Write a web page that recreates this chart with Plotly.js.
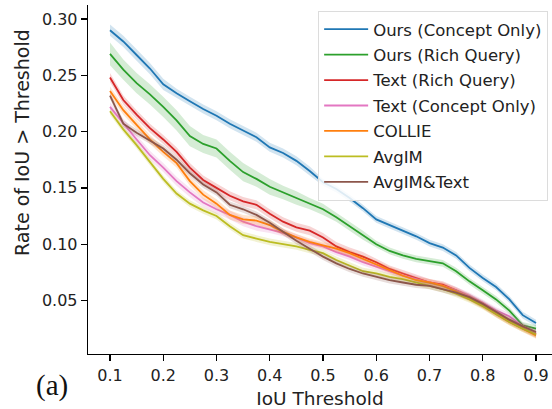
<!DOCTYPE html>
<html>
<head>
<meta charset="utf-8">
<script src="https://cdn.plot.ly/plotly-3.0.1.min.js"></script>
<style>html,body{margin:0;padding:0;background:#fff;}#chart{width:552px;height:409px;}</style>
</head>
<body>
<div id="chart"></div>
<script>
const thresholds = [0.100,0.125,0.150,0.175,0.200,0.225,0.250,0.275,0.300,0.325,0.350,0.375,0.400,0.425,0.450,0.475,0.500,0.525,0.550,0.575,0.600,0.625,0.650,0.675,0.700,0.725,0.750,0.775,0.800,0.825,0.850,0.875,0.900];

const oursConcept = [0.290,0.280,0.268,0.256,0.242,0.234,0.227,0.220,0.214,0.207,0.201,0.195,0.186,0.181,0.174,0.165,0.155,0.149,0.141,0.132,0.122,0.117,0.112,0.107,0.101,0.097,0.090,0.079,0.070,0.062,0.051,0.037,0.030];
const oursConceptErr = [0.005,0.005,0.005,0.005,0.005,0.004,0.004,0.004,0.004,0.004,0.004,0.004,0.004,0.004,0.004,0.004,0.003,0.003,0.003,0.003,0.003,0.003,0.003,0.003,0.003,0.003,0.003,0.003,0.003,0.003,0.003,0.003,0.003];

const oursRich = [0.269,0.255,0.243,0.233,0.222,0.210,0.196,0.189,0.185,0.174,0.164,0.158,0.151,0.146,0.141,0.136,0.131,0.124,0.116,0.108,0.100,0.094,0.090,0.087,0.085,0.083,0.076,0.067,0.059,0.051,0.041,0.028,0.025];
const oursRichErr = [0.010,0.009,0.009,0.009,0.009,0.009,0.009,0.008,0.008,0.008,0.008,0.007,0.007,0.006,0.006,0.005,0.005,0.004,0.004,0.004,0.003,0.003,0.003,0.003,0.003,0.003,0.003,0.003,0.003,0.003,0.003,0.003,0.003];

const textRich = [0.248,0.228,0.215,0.203,0.193,0.182,0.168,0.157,0.150,0.143,0.138,0.135,0.127,0.120,0.115,0.112,0.106,0.098,0.093,0.089,0.084,0.078,0.074,0.070,0.066,0.064,0.059,0.053,0.046,0.039,0.032,0.026,0.020];
const textRichErr = [0.004,0.004,0.004,0.004,0.004,0.004,0.004,0.004,0.004,0.004,0.004,0.004,0.004,0.004,0.004,0.004,0.004,0.004,0.004,0.004,0.003,0.003,0.003,0.003,0.003,0.003,0.003,0.003,0.003,0.003,0.003,0.003,0.003];

const textConcept = [0.222,0.207,0.193,0.179,0.168,0.156,0.146,0.137,0.131,0.126,0.120,0.116,0.113,0.110,0.106,0.101,0.098,0.093,0.089,0.084,0.080,0.076,0.072,0.069,0.066,0.063,0.059,0.054,0.048,0.041,0.036,0.027,0.021];
const textConceptErr = [0.004,0.004,0.004,0.004,0.004,0.004,0.004,0.004,0.004,0.004,0.004,0.004,0.003,0.003,0.003,0.003,0.003,0.003,0.003,0.003,0.003,0.003,0.003,0.003,0.003,0.003,0.003,0.003,0.003,0.003,0.003,0.003,0.003];

const collie = [0.236,0.219,0.206,0.193,0.182,0.172,0.156,0.144,0.136,0.126,0.122,0.121,0.117,0.111,0.106,0.102,0.099,0.096,0.092,0.087,0.082,0.077,0.072,0.068,0.066,0.063,0.058,0.052,0.046,0.038,0.031,0.025,0.019];
const collieErr = [0.004,0.004,0.004,0.004,0.004,0.004,0.004,0.004,0.004,0.004,0.004,0.004,0.004,0.003,0.003,0.003,0.003,0.003,0.003,0.003,0.003,0.003,0.003,0.003,0.003,0.003,0.003,0.003,0.003,0.003,0.003,0.003,0.003];

const avgIM = [0.218,0.202,0.188,0.173,0.158,0.145,0.136,0.130,0.125,0.116,0.108,0.105,0.102,0.100,0.098,0.095,0.092,0.086,0.081,0.076,0.074,0.071,0.069,0.066,0.063,0.060,0.056,0.051,0.045,0.038,0.031,0.025,0.020];
const avgIMErr = [0.003,0.003,0.003,0.003,0.003,0.003,0.003,0.003,0.003,0.003,0.003,0.003,0.003,0.003,0.003,0.003,0.003,0.003,0.003,0.003,0.003,0.003,0.003,0.003,0.003,0.003,0.003,0.003,0.003,0.003,0.003,0.003,0.003];

const avgIMText = [0.232,0.207,0.199,0.192,0.185,0.175,0.163,0.153,0.146,0.135,0.131,0.126,0.119,0.111,0.103,0.096,0.089,0.083,0.078,0.074,0.071,0.068,0.066,0.064,0.063,0.060,0.057,0.053,0.047,0.040,0.033,0.027,0.022];
const avgIMTextErr = [0.003,0.003,0.003,0.003,0.003,0.003,0.003,0.003,0.003,0.003,0.003,0.003,0.003,0.003,0.003,0.003,0.003,0.003,0.003,0.003,0.003,0.003,0.003,0.003,0.003,0.003,0.003,0.003,0.003,0.003,0.003,0.003,0.003];

const seriesNames = ["Ours (Concept Only)","Ours (Rich Query)","Text (Rich Query)","Text (Concept Only)","COLLIE","AvgIM","AvgIM&Text"];
const seriesValues = [oursConcept, oursRich, textRich, textConcept, collie, avgIM, avgIMText];
const seriesErrs = [oursConceptErr, oursRichErr, textRichErr, textConceptErr, collieErr, avgIMErr, avgIMTextErr];
const colors = ["#1f77b4","#2ca02c","#d62728","#e377c2","#ff7f0e","#bcbd22","#8c564b"];
const xTicks = [0.1,0.2,0.3,0.4,0.5,0.6,0.7,0.8,0.9];
const xTickLabels = ["0.1","0.2","0.3","0.4","0.5","0.6","0.7","0.8","0.9"];
const yTicks = [0.05,0.10,0.15,0.20,0.25,0.30];
const yTickLabels = ["0.05","0.10","0.15","0.20","0.25","0.30"];

function rgba(hex, a){
  const n = parseInt(hex.slice(1),16);
  return `rgba(${(n>>16)&255},${(n>>8)&255},${n&255},${a})`;
}

const traces = [];
seriesNames.forEach((name, i) => {
  const v = seriesValues[i], e = seriesErrs[i];
  traces.push({x: thresholds, y: v.map((d,k)=>d-e[k]), type:'scatter', mode:'lines',
    line:{width:0, color:colors[i]}, showlegend:false, hoverinfo:'skip', legendgroup:'g'+i});
  traces.push({x: thresholds, y: v.map((d,k)=>d+e[k]), type:'scatter', mode:'lines',
    line:{width:0, color:colors[i]}, fill:'tonexty', fillcolor: rgba(colors[i],0.2),
    showlegend:false, hoverinfo:'skip', legendgroup:'g'+i});
  traces.push({x: thresholds, y: v, type:'scatter', mode:'lines', name: name,
    line:{width:1.8, color:colors[i]}, legendgroup:'g'+i});
});

const axisFont = {family:'DejaVu Sans', size:16, color:'#222'};
const layout = {
  width:552, height:409,
  margin:{l:88, r:0, t:5, b:55},
  paper_bgcolor:'#fff', plot_bgcolor:'#fff',
  font:{family:'DejaVu Sans', size:16, color:'#222'},
  showlegend:true,
  legend:{x:0.496, y:0.983, xanchor:'left', yanchor:'top', itemwidth:44,
    bgcolor:'rgba(255,255,255,0.85)', bordercolor:'#dcdcdc', borderwidth:1,
    font:{family:'DejaVu Sans', size:16.5, color:'#222'}, tracegroupgap:1},
  xaxis:{range:[0.0587,0.930], tickvals:xTicks, ticktext:xTickLabels,
    showline:true, linecolor:'#000', linewidth:1.3, ticks:'outside', ticklen:6, tickwidth:1.3, tickcolor:'#000',
    showgrid:false, zeroline:false, tickfont:axisFont,
    title:{text:'IoU Threshold', font:{family:'DejaVu Sans', size:18.5, color:'#222'}, standoff:8}},
  yaxis:{range:[0.0025,0.3124], tickvals:yTicks, ticktext:yTickLabels,
    showline:true, linecolor:'#000', linewidth:1.3, ticks:'outside', ticklen:6, tickwidth:1.3, tickcolor:'#000',
    showgrid:false, zeroline:false, tickfont:axisFont},
  annotations:[
    {text:'Rate of IoU > Threshold', xref:'paper', yref:'paper', x:-0.142, y:0.605, textangle:-90,
     xanchor:'center', yanchor:'middle', showarrow:false,
     font:{family:'DejaVu Sans', size:19, color:'#222'}},
    {text:'(a)', xref:'paper', yref:'paper', x:-0.077, y:-0.089, xanchor:'center', yanchor:'middle',
     showarrow:false, font:{family:'Liberation Serif', size:29, color:'#111'}}]
};

Plotly.newPlot('chart', traces, layout, {displayModeBar:false, staticPlot:true});
</script>
</body>
</html>
